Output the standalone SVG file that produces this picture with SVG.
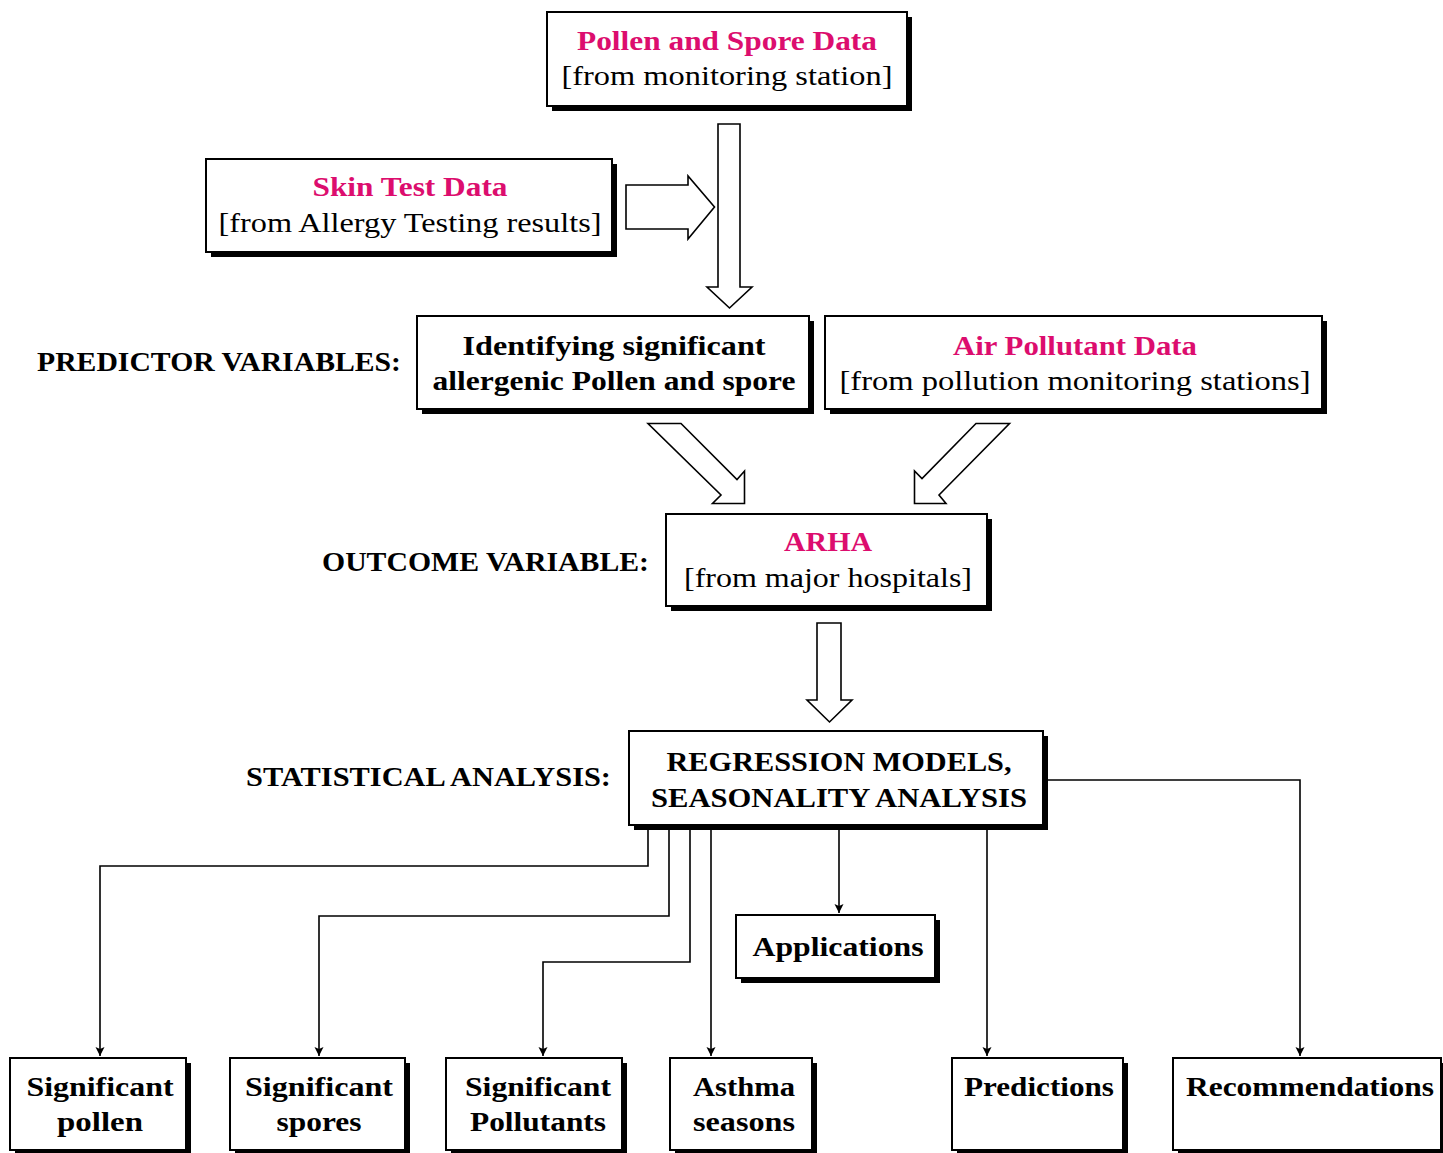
<svg xmlns="http://www.w3.org/2000/svg" width="1443" height="1153" viewBox="0 0 1443 1153">
<style>
text{font-family:"Liberation Serif","Times New Roman",serif;font-size:28px;fill:#000;text-anchor:middle}
.b{font-weight:bold}
.m{fill:#DC0D6E;font-weight:bold}
.lab{font-weight:bold;text-anchor:start}
.sh{fill:#000}
.bx{fill:#fff;stroke:#000;stroke-width:2}
.ba{fill:#fff;stroke:#000;stroke-width:1.6;stroke-linejoin:miter}
.cn{fill:none;stroke:#000;stroke-width:1.6}
</style>
<defs>
<marker id="ah" markerUnits="userSpaceOnUse" markerWidth="12" markerHeight="12" refX="9" refY="5" orient="auto">
<path d="M0,0.5 L9,5 L0,9.5 L2,5 Z" fill="#000"/>
</marker>
</defs>
<rect width="1443" height="1153" fill="#fff"/>

<g id="labels">
<text class="lab" x="37" y="371" textLength="364" lengthAdjust="spacingAndGlyphs">PREDICTOR VARIABLES:</text>
<text class="lab" x="322" y="571" textLength="327" lengthAdjust="spacingAndGlyphs">OUTCOME VARIABLE:</text>
<text class="lab" x="246" y="786" textLength="365" lengthAdjust="spacingAndGlyphs">STATISTICAL ANALYSIS:</text>
</g>

<g id="block-arrows">
<path class="ba" d="M626,185 H688 V176 L714.5,207 L688,239 V229 H626 Z"/>
<path class="ba" d="M718,124 H740 V287 H752 L729.5,308 L707,287 H718 Z"/>
<path class="ba" d="M648,423.5 H681 L737,479.5 L744.5,471 V503.5 H712.5 L721,495 Z"/>
<path class="ba" d="M1009.5,423.5 H976 L922,478.5 L914.5,471 V503.5 H946 L939,495 Z"/>
<path class="ba" d="M817,623 H841 V700 H852 L829.5,722 L807,700 H817 Z"/>
</g>

<g id="connectors">
<path class="cn" d="M648,826 V866 H100 V1056" marker-end="url(#ah)"/>
<path class="cn" d="M669,826 V916 H319 V1056" marker-end="url(#ah)"/>
<path class="cn" d="M690,826 V962 H543 V1056" marker-end="url(#ah)"/>
<path class="cn" d="M711,826 V1056" marker-end="url(#ah)"/>
<path class="cn" d="M839,826 V913" marker-end="url(#ah)"/>
<path class="cn" d="M987,826 V1056" marker-end="url(#ah)"/>
<path class="cn" d="M1044,780 H1300 V1056" marker-end="url(#ah)"/>
</g>

<g id="pollen-spore-data">
<rect class="sh" x="552" y="17" width="360" height="94"/>
<rect class="bx" x="547" y="12" width="360" height="94"/>
<text class="m" x="727" y="50" textLength="300" lengthAdjust="spacingAndGlyphs">Pollen and Spore Data</text>
<text x="727" y="85" textLength="331" lengthAdjust="spacingAndGlyphs">[from monitoring station]</text>
</g>

<g id="skin-test-data">
<rect class="sh" x="211" y="164" width="406" height="93"/>
<rect class="bx" x="206" y="159" width="406" height="93"/>
<text class="m" x="410" y="196" textLength="195" lengthAdjust="spacingAndGlyphs">Skin Test Data</text>
<text x="410" y="232" textLength="383" lengthAdjust="spacingAndGlyphs">[from Allergy Testing results]</text>
</g>

<g id="identifying">
<rect class="sh" x="422" y="321" width="392" height="93"/>
<rect class="bx" x="417" y="316" width="392" height="93"/>
<text class="b" x="614" y="355" textLength="303" lengthAdjust="spacingAndGlyphs">Identifying significant</text>
<text class="b" x="614" y="390" textLength="363" lengthAdjust="spacingAndGlyphs">allergenic Pollen and spore</text>
</g>

<g id="air-pollutant-data">
<rect class="sh" x="830" y="321" width="497" height="93"/>
<rect class="bx" x="825" y="316" width="497" height="93"/>
<text class="m" x="1075" y="355" textLength="244" lengthAdjust="spacingAndGlyphs">Air Pollutant Data</text>
<text x="1075" y="390" textLength="471" lengthAdjust="spacingAndGlyphs">[from pollution monitoring stations]</text>
</g>

<g id="arha">
<rect class="sh" x="671" y="519" width="321" height="92"/>
<rect class="bx" x="666" y="514" width="321" height="92"/>
<text class="m" x="828" y="551" textLength="88" lengthAdjust="spacingAndGlyphs">ARHA</text>
<text x="828" y="587" textLength="288" lengthAdjust="spacingAndGlyphs">[from major hospitals]</text>
</g>

<g id="regression">
<rect class="sh" x="634" y="736" width="414" height="94"/>
<rect class="bx" x="629" y="731" width="414" height="94"/>
<text class="b" x="839" y="771" textLength="345" lengthAdjust="spacingAndGlyphs">REGRESSION MODELS,</text>
<text class="b" x="839" y="807" textLength="376" lengthAdjust="spacingAndGlyphs">SEASONALITY ANALYSIS</text>
</g>

<g id="applications">
<rect class="sh" x="741" y="920" width="199" height="63"/>
<rect class="bx" x="736" y="915" width="199" height="63"/>
<text class="b" x="838" y="956" textLength="171" lengthAdjust="spacingAndGlyphs">Applications</text>
</g>

<g id="significant-pollen">
<rect class="sh" x="15" y="1063" width="176" height="92"/>
<rect class="bx" x="10" y="1058" width="176" height="92"/>
<text class="b" x="100" y="1096" textLength="147" lengthAdjust="spacingAndGlyphs">Significant</text>
<text class="b" x="100" y="1131" textLength="86" lengthAdjust="spacingAndGlyphs">pollen</text>
</g>

<g id="significant-spores">
<rect class="sh" x="235" y="1063" width="175" height="92"/>
<rect class="bx" x="230" y="1058" width="175" height="92"/>
<text class="b" x="319" y="1096" textLength="148" lengthAdjust="spacingAndGlyphs">Significant</text>
<text class="b" x="319" y="1131" textLength="85" lengthAdjust="spacingAndGlyphs">spores</text>
</g>

<g id="significant-pollutants">
<rect class="sh" x="451" y="1063" width="176" height="92"/>
<rect class="bx" x="446" y="1058" width="176" height="92"/>
<text class="b" x="538" y="1096" textLength="146" lengthAdjust="spacingAndGlyphs">Significant</text>
<text class="b" x="538" y="1131" textLength="136" lengthAdjust="spacingAndGlyphs">Pollutants</text>
</g>

<g id="asthma-seasons">
<rect class="sh" x="675" y="1063" width="142" height="92"/>
<rect class="bx" x="670" y="1058" width="142" height="92"/>
<text class="b" x="744" y="1096" textLength="102" lengthAdjust="spacingAndGlyphs">Asthma</text>
<text class="b" x="744" y="1131" textLength="102" lengthAdjust="spacingAndGlyphs">seasons</text>
</g>

<g id="predictions">
<rect class="sh" x="957" y="1063" width="171" height="92"/>
<rect class="bx" x="952" y="1058" width="171" height="92"/>
<text class="b" x="1039" y="1096" textLength="150" lengthAdjust="spacingAndGlyphs">Predictions</text>
</g>

<g id="recommendations">
<rect class="sh" x="1178" y="1063" width="268" height="92"/>
<rect class="bx" x="1173" y="1058" width="268" height="92"/>
<text class="b" x="1310" y="1096" textLength="248" lengthAdjust="spacingAndGlyphs">Recommendations</text>
</g>
</svg>
